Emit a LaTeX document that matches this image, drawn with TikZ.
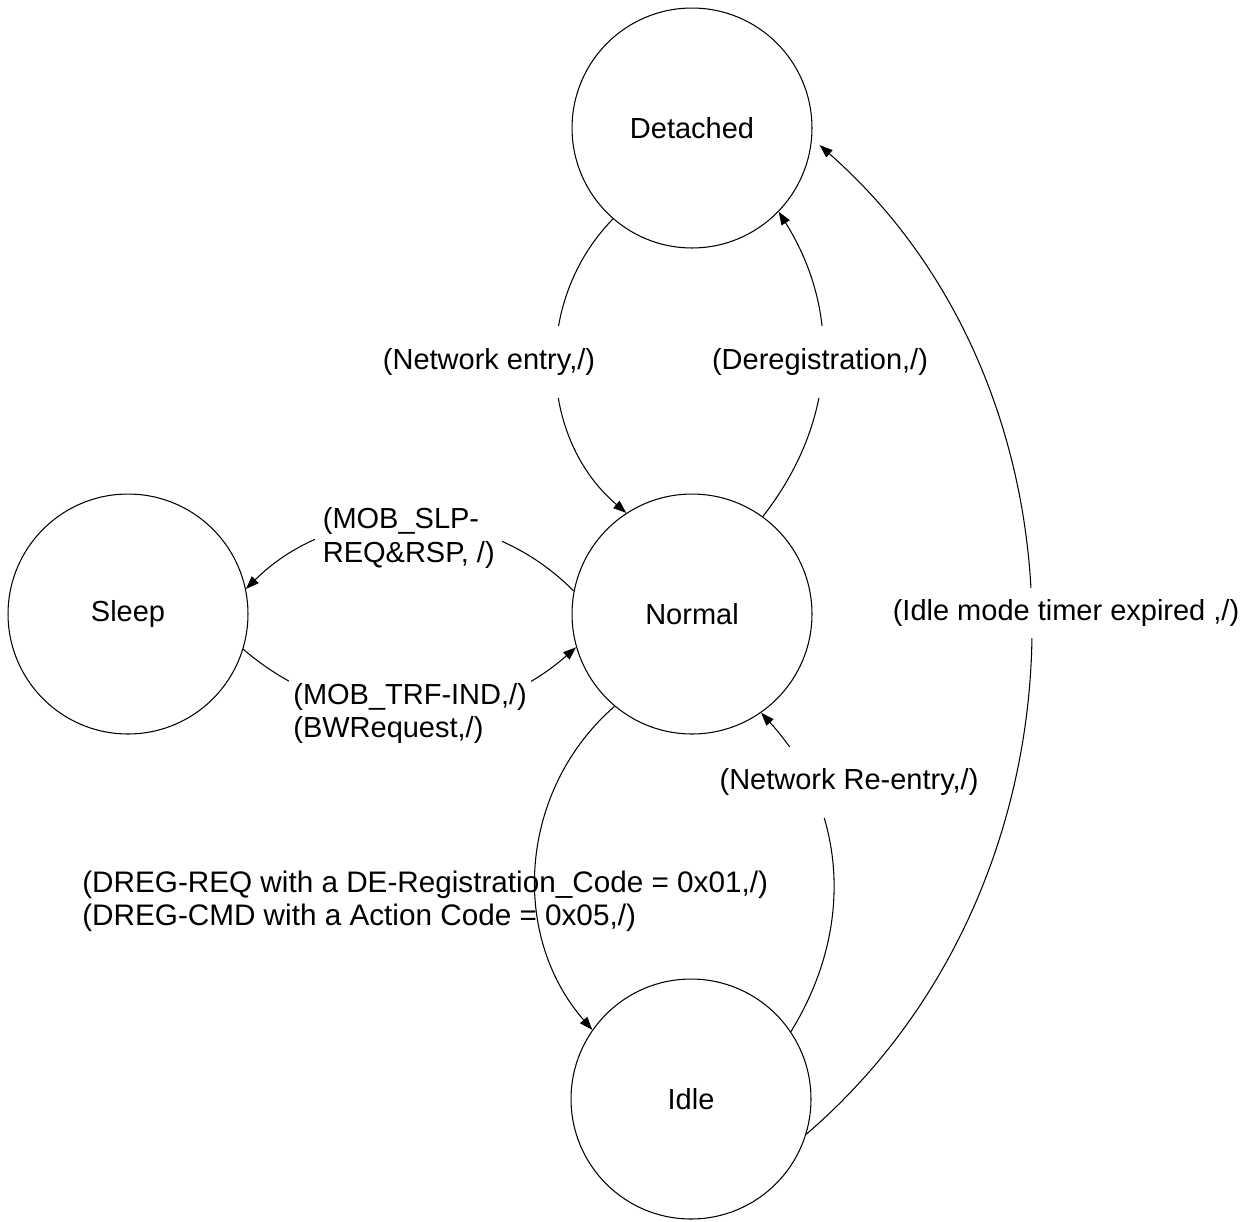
\documentclass[tikz,border=0pt]{standalone}
\usepackage{fontspec}
\setmainfont{Liberation Sans}
\usetikzlibrary{arrows.meta}
\begin{document}
\begin{tikzpicture}[x=0.02cm,y=-0.02cm,
  every node/.style={font=\fontsize{16.5pt}{18.8pt}\selectfont},
  state/.style={circle,draw,line width=0.6pt,minimum size=4.8cm,inner sep=0pt},
  trans/.style={line width=0.6pt,-{Triangle[length=7.5pt,width=5.4pt]}},
  lbl/.style={fill=white,inner xsep=2pt,inner ysep=0pt,align=center},
  lbltwo/.style={fill=white,anchor=west,align=left,inner ysep=3pt}
]
\useasboundingbox (0,0) rectangle (1253,1221);
\node[state] (D) at (692,128) {Detached};
\node[state] (N) at (692,614) {Normal};
\node[state] (S) at (128,614) {Sleep};
\node[state] (I) at (691,1099) {Idle};

\draw[trans] (D.229) to[bend right=47] (N.123);
\draw[trans] (N.54) to[bend right=35] (D.316);
\draw[trans] (N.169) to[bend right=45] (S.12);
\draw[trans] (S.343) to[bend right=41] (N.196);
\draw[trans] (N.230) to[bend right=45] (I.145);
\draw[trans] (I.34) to[bend right=37] (N.305);
\draw[trans,shorten >=0.2cm] (I.343) to[bend right=49] (D.355);

\node[lbl,minimum height=1.44cm] (l1) at (489,362) {(Network entry,/)};
\node[lbl,minimum height=1.44cm] (l2) at (820,362) {(Deregistration,/)};
\node[lbltwo,inner xsep=0.15cm] (l3) at (315,538) {(MOB\_SLP-\\REQ\&RSP, /)};
\node[lbltwo,inner xsep=0.08cm] (l4) at (289,713.5) {(MOB\_TRF-IND,/)\\(BWRequest,/)};
\node[anchor=west,align=left,inner sep=0pt,font=\fontsize{16.9pt}{18.8pt}\selectfont] (l5) at (82,901.5) {(DREG-REQ with a DE-Registration\_Code = 0x01,/)\\(DREG-CMD with a Action Code = 0x05,/)};
\node[lbl,minimum height=1.42cm] (l6) at (849,782) {(Network Re-entry,/)};
\node[lbl,minimum height=1.0cm] (l7) at (1066,613) {(Idle mode timer expired ,/)};
\end{tikzpicture}
\end{document}
